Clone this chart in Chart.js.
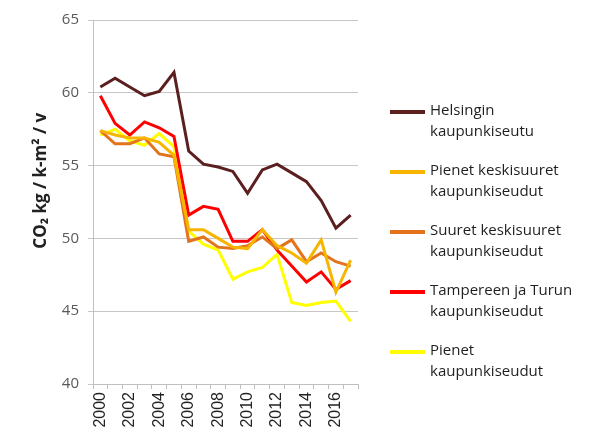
<!DOCTYPE html>
<html>
<head>
<meta charset="utf-8">
<script src="https://cdn.jsdelivr.net/npm/chart.js@4/dist/chart.umd.min.js"></script>
<style>
  html, body { margin: 0; padding: 0; background: #fff; }
  #wrap { width: 595px; height: 440px; }
</style>
</head>
<body>
<div id="wrap"><canvas id="chart" width="595" height="440"></canvas></div>
<script>
const years = ['2000', '2001', '2002', '2003', '2004', '2005', '2006', '2007', '2008',
    '2009', '2010', '2011', '2012', '2013', '2014', '2015', '2016', '2017'];

const seriesNames = [
    ['Helsingin', 'kaupunkiseutu'],
    ['Pienet keskisuuret', 'kaupunkiseudut'],
    ['Suuret keskisuuret', 'kaupunkiseudut'],
    ['Tampereen ja Turun', 'kaupunkiseudut'],
    ['Pienet', 'kaupunkiseudut']
];

const helsinki = [60.4, 61.0, 60.4, 59.8, 60.1, 61.4, 56.0, 55.1, 54.9, 54.6, 53.1, 54.7, 55.1, 54.5, 53.9, 52.6, 50.7, 51.6];
const pienetKeskisuuret = [57.4, 57.1, 56.9, 56.9, 56.6, 55.7, 50.6, 50.6, 50.0, 49.4, 49.3, 50.6, 49.5, 49.0, 48.3, 49.9, 46.3, 48.5];
const suuretKeskisuuret = [57.4, 56.5, 56.5, 56.9, 55.8, 55.6, 49.8, 50.1, 49.4, 49.3, 49.5, 50.1, 49.3, 49.9, 48.4, 49.0, 48.4, 48.1];
const tampereTurku = [59.8, 57.9, 57.1, 58.0, 57.6, 57.0, 51.6, 52.2, 52.0, 49.8, 49.8, 50.6, 49.2, 48.1, 47.0, 47.7, 46.5, 47.1];
const pienet = [57.1, 57.5, 56.7, 56.4, 57.2, 56.3, 50.5, 49.6, 49.2, 47.2, 47.7, 48.0, 48.9, 45.6, 45.4, 45.6, 45.7, 44.3];

const yTicks = [40, 45, 50, 55, 60, 65];

const colors = ['#5c1f1f', '#f7b500', '#e3731c', '#ff0000', '#ffff00'];
const allData = [helsinki, pienetKeskisuuret, suuretKeskisuuret, tampereTurku, pienet];

// legend is drawn by hand because the labels wrap on two lines
const sideLegend = {
    id: 'sideLegend',
    afterDraw(chart) {
        const ctx = chart.ctx;
        ctx.save();
        ctx.font = '15px "Open Sans"';
        ctx.fillStyle = '#1f1f1f';
        ctx.textBaseline = 'middle';
        seriesNames.forEach((lines, i) => {
            const y = 111 + i * 60;
            ctx.strokeStyle = colors[i];
            ctx.lineWidth = 4;
            ctx.beginPath();
            ctx.moveTo(390, y + 1);
            ctx.lineTo(425, y + 1);
            ctx.stroke();
            lines.forEach((t, j) => ctx.fillText(t, 430, y + j * 21));
        });
        ctx.restore();
    }
};

new Chart(document.getElementById('chart'), {
    type: 'line',
    data: {
        labels: years,
        datasets: allData.map((d, i) => ({
            label: seriesNames[i].join(' '),
            data: d,
            borderColor: colors[i],
            backgroundColor: colors[i],
            borderWidth: 3,
            pointRadius: 0,
            tension: 0
        }))
    },
    options: {
        responsive: false,
        animation: false,
        layout: { padding: { top: 20, right: 237, left: 31, bottom: 0 } },
        plugins: {
            legend: { display: false },
            tooltip: { enabled: false }
        },
        scales: {
            x: {
                offset: true,
                afterFit: s => { s.height = 56; },
                grid: { offset: true, drawOnChartArea: false, drawTicks: true, tickLength: 5, color: '#bfbfbf' },
                border: { color: '#bfbfbf', width: 1 },
                ticks: {
                    autoSkip: false,
                    minRotation: 90,
                    maxRotation: 90,
                    padding: 3,
                    color: '#222',
                    font: { family: '"Liberation Sans"', size: 16 },
                    callback: function (v, i) { return i % 2 === 0 ? years[i] : ''; }
                }
            },
            y: {
                min: 40,
                max: 65,
                afterFit: s => { s.width = 62; },
                afterBuildTicks: s => { s.ticks = yTicks.map(v => ({ value: v })); },
                grid: { color: '#c6c6c6', lineWidth: 1, tickLength: 5 },
                border: { color: '#bfbfbf', width: 1 },
                ticks: {
                    color: '#595959',
                    padding: 9,
                    font: { family: '"Open Sans"', size: 15 }
                },
                title: {
                    display: true,
                    // leading en spaces push the visible text a bit up, as in the original
                    text: '\u2002\u2002\u2002\u2002\u2002CO₂ kg / k-m² / v',
                    color: '#222',
                    padding: { top: 0, bottom: 7 },
                    font: { family: '"Open Sans"', size: 17, weight: 'bold' }
                }
            }
        }
    },
    plugins: [sideLegend]
});
</script>
</body>
</html>
